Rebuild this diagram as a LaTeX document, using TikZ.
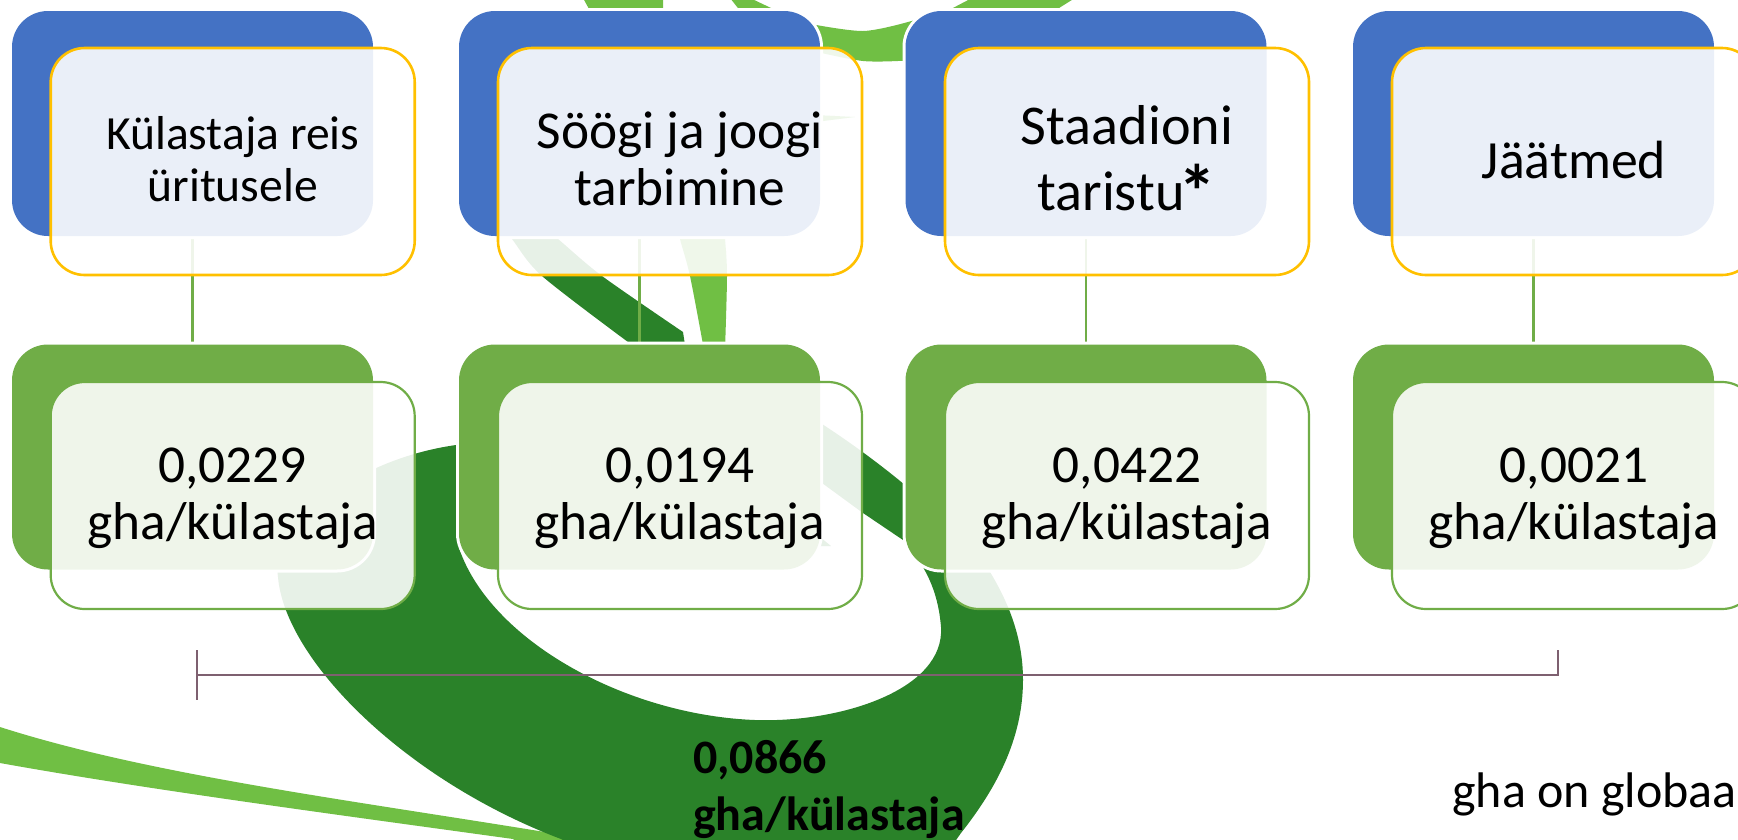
\documentclass[tikz,border=0pt]{standalone}
\usepackage{fontspec}
\setmainfont{Carlito}
\definecolor{logodark}{HTML}{2A8229}
\definecolor{logolight}{HTML}{70BF44}
\definecolor{boxblue}{HTML}{4472C4}
\definecolor{boxgreen}{HTML}{70AD47}
\definecolor{edgeyellow}{HTML}{FFC000}
\definecolor{bracketcol}{HTML}{7E6070}
\tikzset{
  backbox/.style={rectangle,rounded corners=36pt,minimum width=361pt,minimum height=225pt,inner sep=0pt,outer sep=0pt,
    preaction={draw=white,line width=6pt},fill=#1},
  frontbox/.style={rectangle,rounded corners=34pt,minimum width=364pt,minimum height=227pt,inner sep=0pt,outer sep=0pt,
    text=black,fill=white,fill opacity=.89,text opacity=1,draw=#1},
  yellowbox/.style={frontbox=edgeyellow,line width=2.6pt},
  greenbox/.style={frontbox=boxgreen,line width=2.2pt},
  linkline/.style={draw=boxgreen,line width=2.5pt},
  bracketline/.style={draw=bracketcol,line width=2.4pt},
  fa/.style={font=\fontsize{47.6}{52}\selectfont},
  fb/.style={font=\fontsize{53.3}{57}\selectfont},
  fc/.style={font=\fontsize{56.2}{66}\selectfont},
  fd/.style={font=\fontsize{53.8}{57}\selectfont},
}
% #1 = height of the last baseline over the centre of the box, #2 = line distance, rows separated by \cr
\newcommand{\placedrows}[3]{\smash{\raisebox{#1}{\vbox{\baselineskip=#2\lineskiplimit=-100pt\halign{\hfil##\hfil\cr #3\cr}}}}}
\begin{document}
\begin{tikzpicture}[x=1pt,y=-1pt]
\clip (0,0) rectangle (1738,839);
% logo
\fill[logolight] (0,727) .. controls (150,775) and (350,800) .. (551,833) -- (600,845) -- (520,845) -- (513,839)
  .. controls (340,815) and (150,790) .. (0,763) -- cycle;
\fill[logodark] plot[smooth] coordinates {(540,225)(558,239)(602,276)(683,332)} -- (685,345)
  -- (822,424) .. controls (900,475) and (960,530) .. (990,572)
  .. controls (1010,605) and (1023,640) .. (1023,680)
  .. controls (1023,740) and (995,790) .. (961,833) -- (935,870) -- (620,870) -- (561,839)
  .. controls (405,780) and (285,660) .. (278,577)
  .. controls (270,530) and (350,460) .. (456,445)
  -- (475,440) -- (470,500) -- (459,548)
  .. controls (490,640) and (625,715) .. (755,720)
  .. controls (840,723) and (945,690) .. (941,627)
  .. controls (938,590) and (925,565) .. (903,540)
  -- (863,513) -- (822,483)
  -- plot[smooth] coordinates {(628,342)(542,276)(512,239)(490,210)} -- cycle;
\fill[logodark] (815,533) -- (831,546) -- (820,546) -- cycle;
\fill[logolight] plot[smooth] coordinates {(675,215)(680,239)(690,276)(704,350)} -- plot[smooth] coordinates {(725,350)(727,276)(725,239)(722,215)} -- cycle;
\fill[logolight] plot[smooth] coordinates {(800,22)(863,31)(915,20)} -- plot[smooth] coordinates {(915,60)(863,61)(800,48)} -- cycle;
\fill[logolight] (815,115) -- (855,117) -- (815,122) -- cycle;
\fill[logolight] (583,-2) -- (663,-2) -- (663,20) -- (595,20) -- cycle;
\fill[logolight] (730,-2) -- (750,-2) -- (790,17) -- (745,17) -- cycle;
\fill[logolight] (972,-2) -- (1075,-2) -- (1040,20) -- (930,20) -- cycle;
% centres of the back boxes
\path (192.5,123.5) coordinate (cb1) (639.5,123.5) coordinate (cb2) (1086,123.5) coordinate (cb3) (1533.5,123.5) coordinate (cb4)
      (192.5,457) coordinate (cg1) (639.5,457) coordinate (cg2) (1086,457) coordinate (cg3) (1533.5,457) coordinate (cg4);
\foreach \n in {1,2,3,4}{ \draw[linkline] (cb\n) -- (cg\n); }
% back boxes
\node[backbox=boxblue] (b1) at (cb1) {};
\node[backbox=boxblue] (b2) at (cb2) {};
\node[backbox=boxblue] (b3) at (cb3) {};
\node[backbox=boxblue] (b4) at (cb4) {};
\node[backbox=boxgreen] (g1) at (cg1) {};
\node[backbox=boxgreen] (g2) at (cg2) {};
\node[backbox=boxgreen] (g3) at (cg3) {};
\node[backbox=boxgreen] (g4) at (cg4) {};
% front boxes
\node[yellowbox,fa] (l1) at (232.7,161.5) {\placedrows{-40pt}{52pt}{Külastaja reis\cr üritusele}};
\node[yellowbox,fb] (l2) at (680,161.5) {\placedrows{-44pt}{57pt}{Söögi ja joogi\cr tarbimine}};
\node[yellowbox,fc] (l3) at (1127,161.5) {\placedrows{-48.5pt}{66pt}{Staadioni\cr taristu\makebox[32pt][l]{\kern-6pt\raisebox{-8.4pt}{\textbf{\fontsize{76}{76}\selectfont *}}}}};
\node[yellowbox,fd] (l4) at (1574,161.5) {\placedrows{-16.5pt}{57pt}{Jäätmed}};
\node[greenbox,fb] (m1) at (232.7,495.5) {\placedrows{-44pt}{57pt}{0,0229\cr gha/külastaja}};
\node[greenbox,fb] (m2) at (680,495.5) {\placedrows{-44pt}{57pt}{0,0194\cr gha/külastaja}};
\node[greenbox,fb] (m3) at (1127,495.5) {\placedrows{-44pt}{57pt}{0,0422\cr gha/külastaja}};
\node[greenbox,fb] (m4) at (1574,495.5) {\placedrows{-44pt}{57pt}{0,0021\cr gha/külastaja}};
% bracket
\coordinate (bra) at (197,650);
\coordinate (brb) at (197,700);
\coordinate (brc) at (197,675);
\coordinate (brd) at (1558,675);
\coordinate (bre) at (1558,650);
\draw[bracketline] (bra) -- (brb);
\draw[bracketline] (brc) -- (brd) -- (bre);
% texts
\node[anchor=base west,align=left,inner sep=0pt,font=\fontsize{48}{57}\selectfont\bfseries] (total) at (693,830) {0,0866\\gha/külastaja};
\node[anchor=base west,inner sep=0pt,font=\fontsize{50}{57}\selectfont] (note) at (1452,807) {gha on globaa};
\end{tikzpicture}
\end{document}
